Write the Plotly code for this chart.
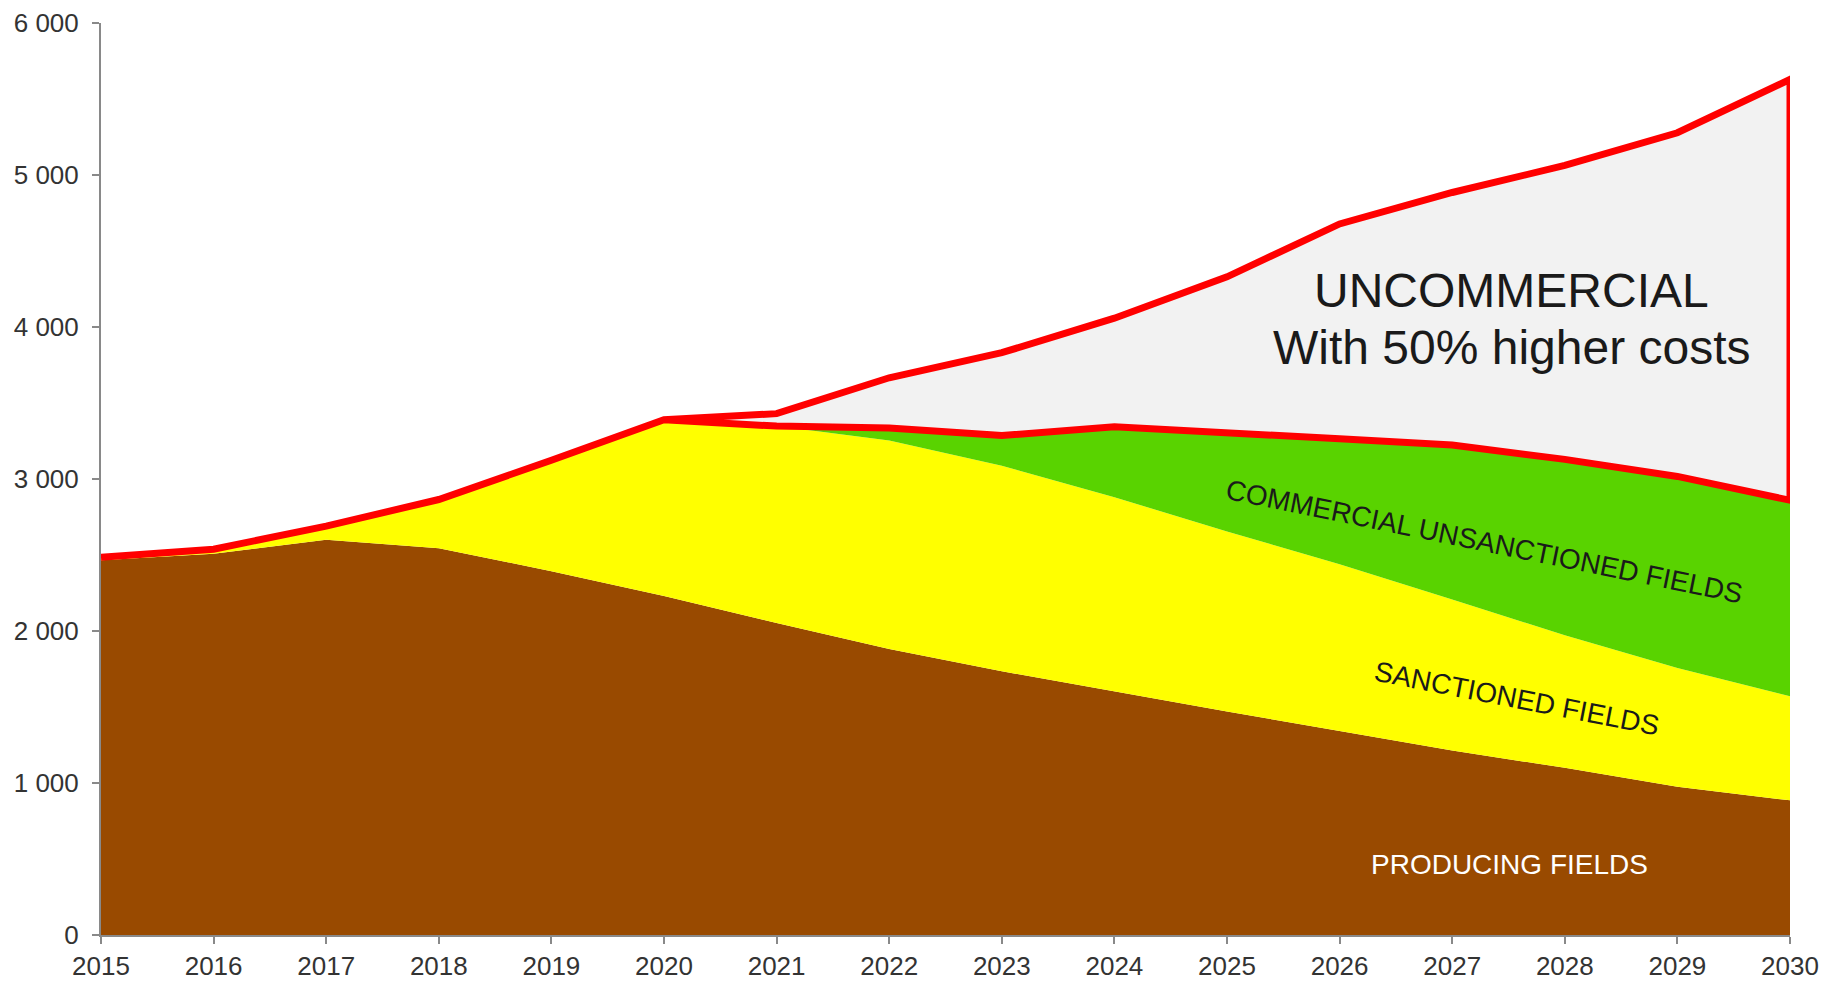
import plotly.graph_objects as go

# Oil production outlook by field category (thousand barrels per day)
years = list(range(2015, 2031))
producing = [2465, 2508, 2600, 2545, 2393, 2230, 2052, 1882, 1735, 1600, 1470, 1342, 1213, 1100, 975, 886]
sanctioned = [20, 30, 90, 320, 730, 1160, 1296, 1371, 1352, 1280, 1185, 1097, 994, 872, 781, 685]
commercial_unsanctioned = [0, 0, 0, 0, 0, 0, 0, 82, 199, 463, 645, 826, 1017, 1157, 1261, 1289]
uncommercial = [0, 0, 0, 0, 0, 0, 82, 331, 545, 715, 1030, 1413, 1661, 1934, 2261, 2769]

y_ticks = [0, 1000, 2000, 3000, 4000, 5000, 6000]

FONT = "Liberation Sans, Arial, sans-serif"

commercial_total = [p + s + c for p, s, c in zip(producing, sanctioned, commercial_unsanctioned)]
grand_total = [c + u for c, u in zip(commercial_total, uncommercial)]

fig = go.Figure()

for name, vals, color in [
    ("Producing fields", producing, "#994a00"),
    ("Sanctioned fields", sanctioned, "#ffff00"),
    ("Commercial unsanctioned fields", commercial_unsanctioned, "#59d300"),
]:
    fig.add_trace(go.Scatter(
        x=years, y=vals, name=name, mode="lines",
        stackgroup="commercial", fillcolor=color,
        line=dict(width=0, color=color), hoverinfo="x+y+name",
    ))

# Uncommercial band drawn as a closed outline: total on top, commercial total below
fig.add_trace(go.Scatter(
    x=years + years[::-1] + [years[0]],
    y=grand_total + commercial_total[::-1] + [grand_total[0]],
    name="Uncommercial", mode="lines", fill="toself",
    fillcolor="#f2f2f2", line=dict(color="#ff0000", width=7),
    hoverinfo="skip",
))

label_font = dict(family=FONT, size=28, color="#1a1a1a")
annotations = [
    dict(x=2027.53, y=4243, text="UNCOMMERCIAL",
         font=dict(family=FONT, size=48, color="#1a1a1a")),
    dict(x=2027.53, y=3862, text="With 50% higher costs",
         font=dict(family=FONT, size=48, color="#1a1a1a")),
    dict(x=2027.28, y=2586, text="COMMERCIAL UNSANCTIONED FIELDS",
         font=label_font, textangle=11.5),
    dict(x=2027.57, y=1553, text="SANCTIONED FIELDS",
         font=label_font, textangle=11),
    dict(x=2027.51, y=467, text="PRODUCING FIELDS",
         font=dict(family=FONT, size=28, color="#ffffff")),
]
for a in annotations:
    a.update(xref="x", yref="y", showarrow=False, xanchor="center", yanchor="middle")

fig.update_layout(
    width=1821, height=987,
    margin=dict(l=101, r=31, t=23, b=52, autoexpand=False),
    paper_bgcolor="white", plot_bgcolor="white",
    showlegend=False,
    separators=". ",
    font=dict(family=FONT, size=26, color="#333333"),
    annotations=annotations,
)

fig.update_xaxes(
    range=[2015, 2030], tickmode="array", tickvals=years,
    ticktext=[str(y) for y in years],
    showgrid=False, zeroline=False, automargin=False,
    showline=True, linecolor="#898989", linewidth=2,
    ticks="outside", ticklen=7, tickcolor="#898989", tickwidth=2,
    tickfont=dict(family=FONT, size=26, color="#333333"),
)
fig.update_yaxes(
    range=[0, 6000], tickmode="array", tickvals=y_ticks,
    tickformat=",d", ticklabelstandoff=8,
    showgrid=False, zeroline=False, automargin=False,
    showline=True, linecolor="#898989", linewidth=2,
    ticks="outside", ticklen=7, tickcolor="#898989", tickwidth=2,
    tickfont=dict(family=FONT, size=26, color="#333333"),
)

fig.write_html("out.html")
